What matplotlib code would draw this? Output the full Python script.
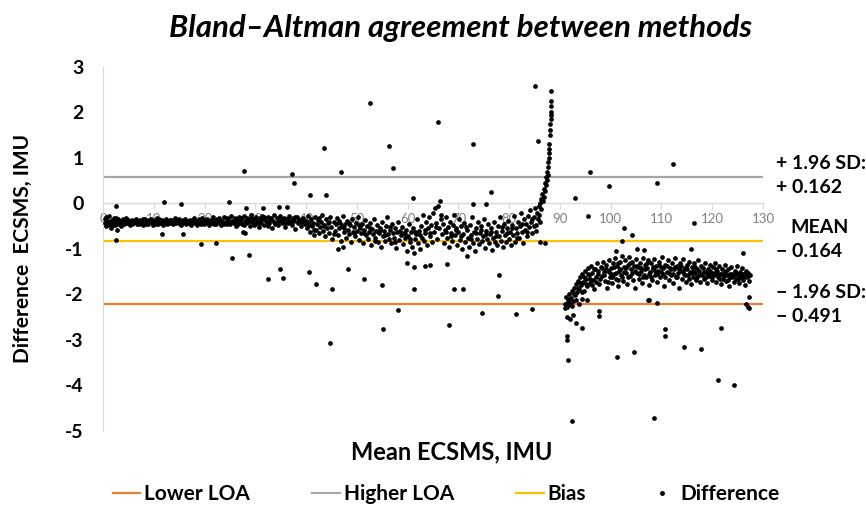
import matplotlib
matplotlib.use("Agg")
import matplotlib.pyplot as plt
from matplotlib.lines import Line2D

plt.rcParams['font.family'] = ['Lato', 'DejaVu Sans']

# Limits of agreement and bias, as drawn on the chart
higher_loa = 0.57
bias = -0.82
lower_loa = -2.21

x_ticks = [0, 10, 20, 30, 40, 50, 60, 70, 80, 90, 100, 110, 120, 130]
y_ticks = [3, 2, 1, 0, -1, -2, -3, -4, -5]
y_tick_labels = ['3', '2', '1', '0', '-1', '-2', '-3', '-4', '-5']

# dense band at low mean values
band1 = [
    (0.3, -0.42), (0.5, -0.30), (0.6, -0.50), (0.9, -0.38), (1.1, -0.46), (1.2, -0.28), (1.5, -0.55), (1.7, -0.36), (1.9, -0.44), (2.1, -0.33),
    (2.3, -0.48), (2.5, -0.40), (2.7, -0.58), (2.9, -0.35), (3.0, -0.45), (3.3, -0.38), (3.5, -0.50), (3.7, -0.42), (4.0, -0.34), (4.2, -0.46),
    (4.4, -0.39), (4.7, -0.44), (4.9, -0.36), (5.2, -0.42), (5.4, -0.48), (5.7, -0.37), (5.9, -0.43), (6.2, -0.40), (6.4, -0.35), (6.7, -0.46),
    (6.9, -0.41), (7.2, -0.37), (7.4, -0.44), (7.7, -0.39), (7.9, -0.47), (8.2, -0.34), (8.4, -0.42), (8.7, -0.38), (8.9, -0.45), (9.2, -0.40),
    (9.4, -0.35), (9.7, -0.43), (9.9, -0.48), (10.2, -0.37), (10.4, -0.41), (10.7, -0.33), (10.9, -0.45), (11.2, -0.39), (11.4, -0.43), (11.7, -0.36),
    (11.9, -0.47), (12.2, -0.40), (12.4, -0.34), (12.7, -0.44), (12.9, -0.38), (13.2, -0.42), (13.4, -0.36), (13.7, -0.46), (13.9, -0.40), (14.2, -0.33),
    (14.4, -0.44), (14.7, -0.39), (14.9, -0.35), (15.2, -0.42), (15.4, -0.47), (15.7, -0.37), (15.9, -0.41), (16.2, -0.34), (16.4, -0.45), (16.7, -0.39),
    (16.9, -0.43), (17.2, -0.36), (17.4, -0.48), (17.7, -0.40), (17.9, -0.33), (18.2, -0.44), (18.4, -0.38), (18.7, -0.42), (18.9, -0.35), (19.2, -0.46),
    (19.4, -0.31), (19.7, -0.41), (19.9, -0.37), (20.2, -0.44), (20.4, -0.34), (20.7, -0.40), (20.9, -0.47), (21.2, -0.36), (21.4, -0.42), (21.7, -0.30),
    (21.9, -0.39), (22.2, -0.45), (22.4, -0.35), (22.7, -0.41), (22.9, -0.32), (23.2, -0.48), (23.4, -0.38), (23.7, -0.43), (23.9, -0.29), (24.2, -0.40),
    (24.4, -0.46), (24.7, -0.34), (24.9, -0.42), (25.2, -0.27), (25.4, -0.38), (25.7, -0.44), (25.9, -0.33), (26.2, -0.49), (26.4, -0.36), (26.7, -0.30),
    (26.9, -0.41), (27.2, -0.35), (27.4, -0.46), (27.7, -0.28), (27.9, -0.39), (28.2, -0.43), (28.4, -0.32), (28.7, -0.37), (28.9, -0.50), (29.2, -0.26),
    (29.4, -0.41), (29.7, -0.35), (29.9, -0.45), (30.2, -0.30), (30.4, -0.38), (30.7, -0.52), (30.9, -0.33), (31.2, -0.42), (31.4, -0.27), (31.7, -0.47),
    (31.9, -0.36), (32.2, -0.40), (32.4, -0.30), (32.7, -0.44), (32.9, -0.34), (33.2, -0.55), (33.4, -0.38), (33.7, -0.25), (33.9, -0.42), (34.2, -0.32),
    (34.4, -0.48), (34.7, -0.36), (34.9, -0.28), (35.2, -0.44), (35.4, -0.39), (35.7, -0.31), (35.9, -0.51), (36.2, -0.35), (36.4, -0.43), (36.7, -0.27),
    (36.9, -0.40), (37.2, -0.47), (37.4, -0.33), (37.7, -0.38), (37.9, -0.56), (38.2, -0.30), (38.4, -0.44), (38.7, -0.36), (38.9, -0.49), (39.2, -0.41),
    (39.4, -0.32), (39.7, -0.45),
]
band1b = [
    (0.4, -0.35), (0.8, -0.47), (1.4, -0.40), (1.8, -0.50), (2.2, -0.42), (2.6, -0.32), (3.2, -0.44), (3.9, -0.41), (4.6, -0.33), (5.1, -0.38),
    (5.8, -0.45), (6.5, -0.41), (7.1, -0.45), (7.8, -0.35), (8.5, -0.46), (9.1, -0.36), (9.8, -0.39), (10.5, -0.45), (11.1, -0.35), (11.8, -0.41),
    (12.5, -0.45), (13.1, -0.37), (13.8, -0.43), (14.5, -0.37), (15.1, -0.46), (15.8, -0.44), (16.5, -0.41), (17.1, -0.44), (17.8, -0.37), (18.5, -0.47),
    (19.1, -0.39), (19.8, -0.45), (20.5, -0.38), (21.1, -0.40), (21.8, -0.45), (22.5, -0.39), (23.1, -0.36), (23.8, -0.46), (24.5, -0.31), (25.1, -0.45),
    (25.8, -0.40), (26.5, -0.45), (27.1, -0.33), (27.8, -0.47), (28.5, -0.40), (29.1, -0.33), (29.8, -0.48), (30.5, -0.43), (31.1, -0.37), (31.8, -0.29),
    (32.5, -0.49), (33.1, -0.32), (33.8, -0.46), (34.5, -0.40), (35.1, -0.35), (35.8, -0.44), (36.5, -0.31), (37.1, -0.39), (37.8, -0.29), (38.5, -0.40),
    (39.1, -0.35), (39.8, -0.38),
]

# wider band in the middle
band2 = [
    (40.0, -0.38), (40.2, -0.55), (40.4, -0.28), (40.6, -0.47), (40.8, -0.62), (41.0, -0.35), (41.2, -0.50), (41.4, -0.42), (41.6, -0.70), (41.8, -0.30),
    (42.0, -0.58), (42.2, -0.45), (42.4, -0.36), (42.6, -0.66), (42.8, -0.52), (43.0, -0.40), (43.2, -0.25), (43.4, -0.60), (43.6, -0.48), (43.8, -0.72),
    (44.0, -0.35), (44.2, -0.55), (44.4, -0.44), (44.6, -0.64), (44.8, -0.30), (45.0, -0.52), (45.2, -0.78), (45.4, -0.40), (45.6, -0.60), (45.8, -0.46),
    (46.0, -0.33), (46.2, -0.70), (46.4, -0.55), (46.6, -0.42), (46.8, -0.82), (47.0, -0.50), (47.2, -0.28), (47.4, -0.63), (47.6, -0.45), (47.8, -0.75),
    (48.0, -0.38), (48.2, -0.58), (48.4, -0.68), (48.6, -0.48), (48.8, -0.85), (49.0, -0.35), (49.2, -0.62), (49.4, -0.52), (49.6, -0.72), (49.8, -0.42),
    (50.0, -0.60), (50.2, -0.30), (50.4, -0.80), (50.6, -0.55), (50.8, -0.66), (51.0, -0.45), (51.2, -0.88), (51.4, -0.58), (51.6, -0.37), (51.8, -0.70),
    (52.0, -0.50), (52.2, -0.78), (52.4, -0.62), (52.6, -0.42), (52.8, -0.92), (53.0, -0.56), (53.2, -0.68), (53.4, -0.35), (53.6, -0.75), (53.8, -0.60),
    (54.0, -0.48), (54.2, -0.85), (54.4, -0.65), (54.6, -0.55), (54.8, -0.95), (55.0, -0.40), (55.2, -0.72), (55.4, -0.60), (55.6, -0.82), (55.8, -0.50),
    (56.0, -0.30), (56.2, -0.68), (56.4, -0.78), (56.6, -0.58), (56.8, -0.88), (57.0, -0.45), (57.2, -0.65), (57.4, -0.75), (57.6, -0.55), (57.8, -0.98),
    (58.0, -0.62), (58.2, -0.40), (58.4, -0.80), (58.6, -0.70), (58.8, -0.52), (59.0, -0.90), (59.2, -0.66), (59.4, -0.76), (59.6, -0.58), (59.8, -1.05),
    (60.0, -0.72), (60.2, -0.45), (60.4, -0.85), (60.6, -0.62), (60.8, -0.95), (61.0, -0.55), (61.2, -1.10), (61.4, -0.78), (61.6, -0.68), (61.8, -0.35),
    (62.0, -0.88), (62.2, -0.60), (62.4, -1.00), (62.6, -0.50), (62.8, -0.75), (63.0, -0.25), (63.2, -0.82), (63.4, -0.65), (63.6, -0.40), (63.8, -0.92),
    (64.0, -0.55), (64.2, -0.30), (64.4, -0.72), (64.6, -0.48), (64.8, -0.85), (65.0, -0.20), (65.2, -0.62), (65.4, -0.10), (65.6, -0.42), (65.8, -0.78),
    (66.0, -0.05), (66.2, -0.55), (66.4, 0.05), (66.6, -0.35), (66.8, -0.68), (67.0, -0.45), (67.2, -0.88), (67.4, -0.58), (67.6, -0.30), (67.8, -0.75),
    (68.0, -0.52), (68.2, -0.95), (68.4, -0.40), (68.6, -0.65), (68.8, -0.82), (69.0, -0.48), (69.2, -0.25), (69.4, -0.70), (69.6, -0.58), (69.8, -0.92),
    (70.0, -0.62), (70.2, -0.35), (70.4, -0.80), (70.6, -0.50), (70.8, -1.00), (71.0, -0.68), (71.2, -0.42), (71.4, -0.85), (71.6, -0.58), (71.8, -0.75),
    (72.0, -0.95), (72.2, -0.48), (72.4, -0.70), (72.6, -0.30), (72.8, -0.88), (73.0, -0.62), (73.2, -1.05), (73.4, -0.55), (73.6, -0.78), (73.8, -0.40),
    (74.0, -0.90), (74.2, -0.65), (74.4, -0.50), (74.6, -0.82), (74.8, -0.72), (75.0, -0.35), (75.2, -0.98), (75.4, -0.60), (75.6, -0.78), (75.8, -0.45),
    (76.0, -0.88), (76.2, -0.68), (76.4, -0.55), (76.6, -1.02), (76.8, -0.75), (77.0, -0.40), (77.2, -0.85), (77.4, -0.62), (77.6, -0.92), (77.8, -0.50),
    (78.0, -0.72), (78.2, -0.30), (78.4, -0.82), (78.6, -0.60), (78.8, -0.95), (79.0, -0.45), (79.2, -0.70), (79.4, -0.85), (79.6, -0.55), (79.8, -0.38),
    (80.0, -0.78), (80.2, -0.62), (80.4, -0.92), (80.6, -0.48), (80.8, -0.70), (81.0, -0.28), (81.2, -0.85), (81.4, -0.55), (81.6, -0.65), (81.8, -0.40),
    (82.0, -0.75), (82.2, -0.50), (82.4, -0.22), (82.6, -0.62), (82.8, -0.88), (83.0, -0.35), (83.2, -0.58), (83.4, -0.45), (83.6, -0.72), (83.8, -0.28),
    (84.0, -0.52), (84.2, -0.15), (84.4, -0.40), (84.6, -0.65), (84.8, -0.30), (85.0, -0.10), (85.2, -0.48), (85.4, -0.22), (85.6, -0.35), (85.8, -0.05),
]
band2b = [
    (40.5, -0.40), (41.5, -0.58), (42.5, -0.32), (43.5, -0.50), (44.5, -0.40), (45.5, -0.68), (46.5, -0.38), (47.5, -0.55), (48.5, -0.44), (49.5, -0.66),
    (50.5, -0.47), (51.5, -0.64), (52.5, -0.55), (53.5, -0.82), (54.5, -0.58), (55.5, -0.70), (56.5, -0.52), (57.5, -0.85), (58.5, -0.60), (59.5, -0.68),
    (60.5, -0.78), (61.5, -0.62), (62.5, -0.70), (63.5, -0.58), (64.5, -0.65), (65.5, -0.52), (66.5, -0.25), (67.5, -0.62), (68.5, -0.72), (69.5, -0.55),
    (70.5, -0.72), (71.5, -0.52), (72.5, -0.78), (73.5, -0.65), (74.5, -0.58), (75.5, -0.68), (76.5, -0.62), (77.5, -0.72), (78.5, -0.52), (79.5, -0.65),
    (80.5, -0.55), (81.5, -0.75), (82.5, -0.45), (83.5, -0.62), (84.5, -0.35), (85.3, -0.60), (84.9, -0.50), (86.1, -0.40),
]

# steep rise just before 90
rise = [
    (85.9, -0.25), (86.0, 0.02), (86.2, 0.10), (86.3, -0.12), (86.5, 0.20), (86.6, 0.05), (86.8, 0.32), (86.9, 0.15), (87.0, 0.45), (87.1, 0.28),
    (87.2, 0.58), (87.3, 0.40), (87.4, 0.70), (87.5, 0.52), (87.6, 0.90), (87.7, 0.80), (87.8, 1.10), (87.9, 1.30), (87.95, 1.20), (88.0, 1.50),
    (88.05, 1.62), (88.1, 1.75), (88.15, 1.95), (88.2, 2.00), (88.25, 2.15), (88.3, 2.25), (88.3, 2.47), (88.2, 1.85), (87.9, 1.00), (87.6, 0.62),
]

# band above 90
band3 = [
    (91.0, -2.20), (91.2, -2.05), (91.4, -2.28), (91.6, -2.12), (91.8, -1.98), (92.0, -2.22), (92.2, -2.08), (92.4, -1.92), (92.6, -2.15), (92.8, -1.85),
    (93.0, -2.02), (93.2, -1.78), (93.4, -1.95), (93.6, -1.70), (93.8, -1.88), (94.0, -1.62), (94.2, -1.80), (94.4, -1.55), (94.6, -1.72), (94.8, -1.92),
    (95.0, -1.48), (95.2, -1.65), (95.4, -1.82), (95.6, -1.42), (95.8, -1.58), (96.0, -1.75), (96.2, -1.38), (96.4, -1.52), (96.6, -1.68), (96.8, -1.88),
    (97.0, -1.45), (97.2, -1.62), (97.4, -1.32), (97.6, -1.55), (97.8, -1.78), (98.0, -1.40), (98.2, -1.60), (98.4, -1.28), (98.6, -1.50), (98.8, -1.70),
    (99.0, -1.35), (99.2, -1.85), (99.4, -1.48), (99.6, -1.25), (99.8, -1.62), (100.0, -1.42), (100.2, -1.75), (100.4, -1.30), (100.6, -1.55), (100.8, -1.20),
    (101.0, -1.65), (101.2, -1.38), (101.4, -1.82), (101.6, -1.48), (101.8, -1.28), (102.0, -1.58), (102.2, -1.15), (102.4, -1.70), (102.6, -1.40), (102.8, -1.25),
    (103.0, -1.52), (103.2, -1.78), (103.4, -1.35), (103.6, -1.18), (103.8, -1.60), (104.0, -1.45), (104.2, -1.28), (104.4, -1.68), (104.6, -1.38), (104.8, -1.85),
    (105.0, -1.22), (105.2, -1.52), (105.4, -1.40), (105.6, -1.65), (105.8, -1.30), (106.0, -1.48), (106.2, -1.75), (106.4, -1.20), (106.6, -1.58), (106.8, -1.35),
    (107.0, -1.62), (107.2, -1.42), (107.4, -1.25), (107.6, -1.80), (107.8, -1.50), (108.0, -1.32), (108.2, -1.68), (108.4, -1.45), (108.6, -1.22), (108.8, -1.58),
    (109.0, -1.38), (109.2, -1.72), (109.4, -1.48), (109.6, -1.28), (109.8, -1.62), (110.0, -1.40), (110.2, -1.18), (110.4, -1.55), (110.6, -1.82), (110.8, -1.35),
    (111.0, -1.50), (111.2, -1.25), (111.4, -1.68), (111.6, -1.42), (111.8, -1.58), (112.0, -1.30), (112.2, -1.75), (112.4, -1.45), (112.6, -1.20), (112.8, -1.62),
    (113.0, -1.38), (113.2, -1.52), (113.4, -1.85), (113.6, -1.32), (113.8, -1.48), (114.0, -1.65), (114.2, -1.22), (114.4, -1.55), (114.6, -1.42), (114.8, -1.72),
    (115.0, -1.35), (115.2, -1.58), (115.4, -1.28), (115.6, -1.50), (115.8, -1.78), (116.0, -1.40), (116.2, -1.62), (116.4, -1.30), (116.6, -1.52), (116.8, -1.68),
    (117.0, -1.45), (117.2, -1.25), (117.4, -1.58), (117.6, -1.72), (117.8, -1.38), (118.0, -1.55), (118.2, -1.42), (118.4, -1.65), (118.6, -1.32), (118.8, -1.50),
    (119.0, -1.75), (119.2, -1.45), (119.4, -1.60), (119.6, -1.35), (119.8, -1.52), (120.0, -1.68), (120.2, -1.40), (120.4, -1.58), (120.6, -1.30), (120.8, -1.72),
    (121.0, -1.48), (121.2, -1.62), (121.4, -1.38), (121.6, -1.55), (121.8, -1.78), (122.0, -1.45), (122.2, -1.65), (122.4, -1.52), (122.6, -1.35), (122.8, -1.70),
    (123.0, -1.58), (123.2, -1.45), (123.4, -1.82), (123.6, -1.62), (123.8, -1.40), (124.0, -1.55), (124.2, -1.72), (124.4, -1.48), (124.6, -1.65), (124.8, -1.38),
    (125.0, -1.58), (125.2, -1.75), (125.4, -1.50), (125.6, -1.62), (125.8, -1.42), (126.0, -1.68), (126.2, -1.55), (126.4, -1.80), (126.6, -1.48), (126.8, -1.62),
    (127.0, -1.52), (127.2, -1.70), (127.4, -1.58),
]
band3b = [
    (91.1, -2.30), (91.5, -2.18), (91.9, -2.10), (92.3, -2.25), (92.7, -2.00), (93.1, -2.12), (93.5, -1.85), (93.9, -1.75), (94.3, -1.95), (94.7, -1.62),
    (95.1, -1.78), (95.5, -1.55), (95.9, -1.65), (96.3, -1.80), (96.7, -1.45), (97.1, -1.72), (97.5, -1.48), (97.9, -1.65), (98.3, -1.42), (98.7, -1.58),
    (99.1, -1.45), (99.5, -1.72), (99.9, -1.52), (100.3, -1.62), (100.7, -1.40), (101.1, -1.52), (101.5, -1.32), (101.9, -1.45), (102.3, -1.62), (102.7, -1.50),
    (103.1, -1.42), (103.5, -1.62), (103.9, -1.32), (104.3, -1.52), (104.7, -1.48), (105.1, -1.38), (105.5, -1.55), (105.9, -1.42), (106.3, -1.62), (106.7, -1.45),
    (107.1, -1.32), (107.5, -1.55), (107.9, -1.62), (108.3, -1.40), (108.7, -1.48), (109.1, -1.55), (109.5, -1.35), (109.9, -1.50), (110.3, -1.42), (110.7, -1.62),
    (111.1, -1.38), (111.5, -1.52), (111.9, -1.45), (112.3, -1.55), (112.7, -1.40), (113.1, -1.62), (113.5, -1.45), (113.9, -1.38), (114.3, -1.48), (114.7, -1.58),
    (115.1, -1.45), (115.5, -1.65), (115.9, -1.52), (116.3, -1.48), (116.7, -1.40), (117.1, -1.62), (117.5, -1.48), (117.9, -1.58), (118.3, -1.50), (118.7, -1.62),
    (119.1, -1.55), (119.5, -1.48), (119.9, -1.62), (120.3, -1.52), (120.7, -1.45), (121.1, -1.58), (121.5, -1.65), (121.9, -1.55), (122.3, -1.60), (122.7, -1.48),
    (123.1, -1.68), (123.5, -1.55), (123.9, -1.62), (124.3, -1.58), (124.7, -1.52), (125.1, -1.65), (125.5, -1.60), (125.9, -1.55), (126.3, -1.62), (126.7, -1.52),
    (127.1, -1.60),
]

# scattered single points
outliers = [
    (2.6, -0.06), (12.1, 0.04), (15.4, -0.02), (24.9, 0.04), (28.2, -0.10), (31.5, -0.10), (34.7, -0.07), (36.2, -0.07),
    (2.6, -0.81), (11.6, -0.68), (15.8, -0.68), (19.2, -0.90), (22.3, -0.88), (25.5, -1.19), (28.8, -1.14), (27.6, -0.63), (28.0, -0.65),
    (27.7, 0.72), (37.3, 0.64), (37.7, 0.44), (40.8, 0.18), (43.6, 1.22), (44.0, 0.18), (46.9, 0.68), (52.6, 2.21), (56.4, 1.27), (57.2, 0.78),
    (66.0, 1.79), (72.8, 1.30), (76.5, 0.26), (61.1, 0.13), (72.9, -0.02), (75.4, -0.02), (85.1, 2.59), (85.7, 1.37),
    (93.0, 0.12), (96.0, 0.70), (99.6, 0.38), (109.2, 0.45), (112.3, 0.87), (95.5, -0.27), (116.4, -0.42), (102.7, -0.53), (104.3, -0.70), (102.3, -0.82),
    (105.2, -1.01), (106.6, -1.03), (115.8, -1.01), (126.1, -1.08), (101.1, -1.05),
    (32.4, -1.66), (34.9, -1.44), (35.5, -1.63), (40.5, -1.51), (41.9, -1.76), (45.2, -1.87), (48.2, -1.44), (46.2, -1.01), (47.3, -0.95),
    (44.8, -3.07), (55.1, -2.77), (58.2, -2.34), (68.2, -2.68), (74.7, -2.41), (81.4, -2.42), (84.5, -2.33),
    (91.4, -2.50), (92.0, -2.55), (92.6, -2.46), (93.1, -2.62), (91.3, -2.92), (91.3, -3.00), (91.5, -3.43), (92.3, -4.78), (94.4, -2.74), (97.7, -2.37), (97.7, -2.48),
    (101.3, -3.38), (104.5, -3.27), (108.5, -4.72), (110.8, -2.77), (110.8, -2.92), (114.4, -3.15), (117.7, -3.20), (121.1, -3.89), (124.2, -4.00), (121.7, -2.74),
    (109.1, -2.19), (126.7, -2.20), (127.0, -2.28), (127.3, -2.30), (127.3, -2.05), (93.7, -2.20), (94.4, -2.10), (107.5, -2.13), (95.3, -2.13), (107.3, -2.12),
    (51.5, -1.67), (54.9, -1.80), (59.9, -1.30), (61.2, -1.40), (61.3, -1.88), (63.5, -1.38), (64.4, -1.36), (67.7, -1.33), (69.2, -1.88), (71.0, -1.88), (71.7, -1.16), (77.9, -2.04), (78.1, -1.57),
    (86.0, -0.85), (87.1, -0.86), (101.5, -1.68),
]

ORANGE = '#ED7D31'
GRAY = '#A5A5A5'
YELLOW = '#FFC000'

fig = plt.figure(figsize=(8.66, 5.07), dpi=100)
ax = fig.add_axes([0.119, 0.150, 0.762, 0.718])

ax.axhline(lower_loa, color=ORANGE, lw=1.6, zorder=2)
ax.axhline(higher_loa, color=GRAY, lw=1.6, zorder=2)
ax.axhline(bias, color=YELLOW, lw=1.6, zorder=2)

for group in [band1, band1b, band2, band2b, rise, band3, band3b, outliers]:
    xs = [p[0] for p in group]
    ys = [p[1] for p in group]
    ax.plot(xs, ys, 'o', color='black', ms=3.4, mew=0, zorder=3)

ax.set_xlim(0, 130)
ax.set_ylim(-5, 3)

# x axis runs along y = 0, Excel style
ax.spines['bottom'].set_position(('data', 0))
ax.spines['bottom'].set_color('#D9D9D9')
ax.spines['bottom'].set_linewidth(1.0)
ax.spines['left'].set_color('#D9D9D9')
ax.spines['top'].set_visible(False)
ax.spines['right'].set_visible(False)

ax.set_xticks(x_ticks)
ax.set_xticklabels([str(t) for t in x_ticks])
ax.tick_params(axis='x', direction='out', length=4, color='#D9D9D9',
               labelsize=9.5, labelcolor='#7F7F7F', pad=3)
ax.set_yticks(y_ticks)
ax.set_yticklabels(y_tick_labels, fontweight='bold')
ax.tick_params(axis='y', length=0, labelsize=14, pad=14)

fig.text(0.532, 0.945, 'Bland\u2013Altman agreement between methods',
         ha='center', va='center', fontsize=22.5, fontweight='bold', style='italic')
fig.text(0.522, 0.108, 'Mean ECSMS, IMU', ha='center', va='center',
         fontsize=17, fontweight='bold')
fig.text(0.027, 0.51, 'Difference  ECSMS, IMU', ha='center', va='center',
         rotation=90, fontsize=15, fontweight='bold')

# right-hand annotations
right_notes = [('+ 1.96 SD:', 0.88, 1.02), ('+ 0.162', 0.35, 1.02),
               ('MEAN', -0.53, 1.041), ('\u2212 0.164', -1.05, 1.02),
               ('\u2212 1.96 SD:', -1.96, 1.02), ('\u2212 0.491', -2.48, 1.02)]
for txt, yv, xa in right_notes:
    ax.text(xa, yv, txt, transform=ax.get_yaxis_transform(), ha='left', va='center',
            fontsize=14, fontweight='bold', clip_on=False)

handles = [Line2D([], [], color=ORANGE, lw=1.6),
           Line2D([], [], color=GRAY, lw=1.6),
           Line2D([], [], color=YELLOW, lw=1.6),
           Line2D([], [], ls='none', marker='o', color='black', ms=2.5)]
labels = ['Lower LOA', 'Higher LOA', 'Bias', 'Difference']
fig.legend(handles, labels, loc='center', bbox_to_anchor=(0.515, 0.026), ncol=4,
           frameon=False, handlelength=1.3, handletextpad=0.2, columnspacing=3.0,
           prop={'size': 15, 'weight': 'bold'})

fig.savefig('out.png', dpi=100)
